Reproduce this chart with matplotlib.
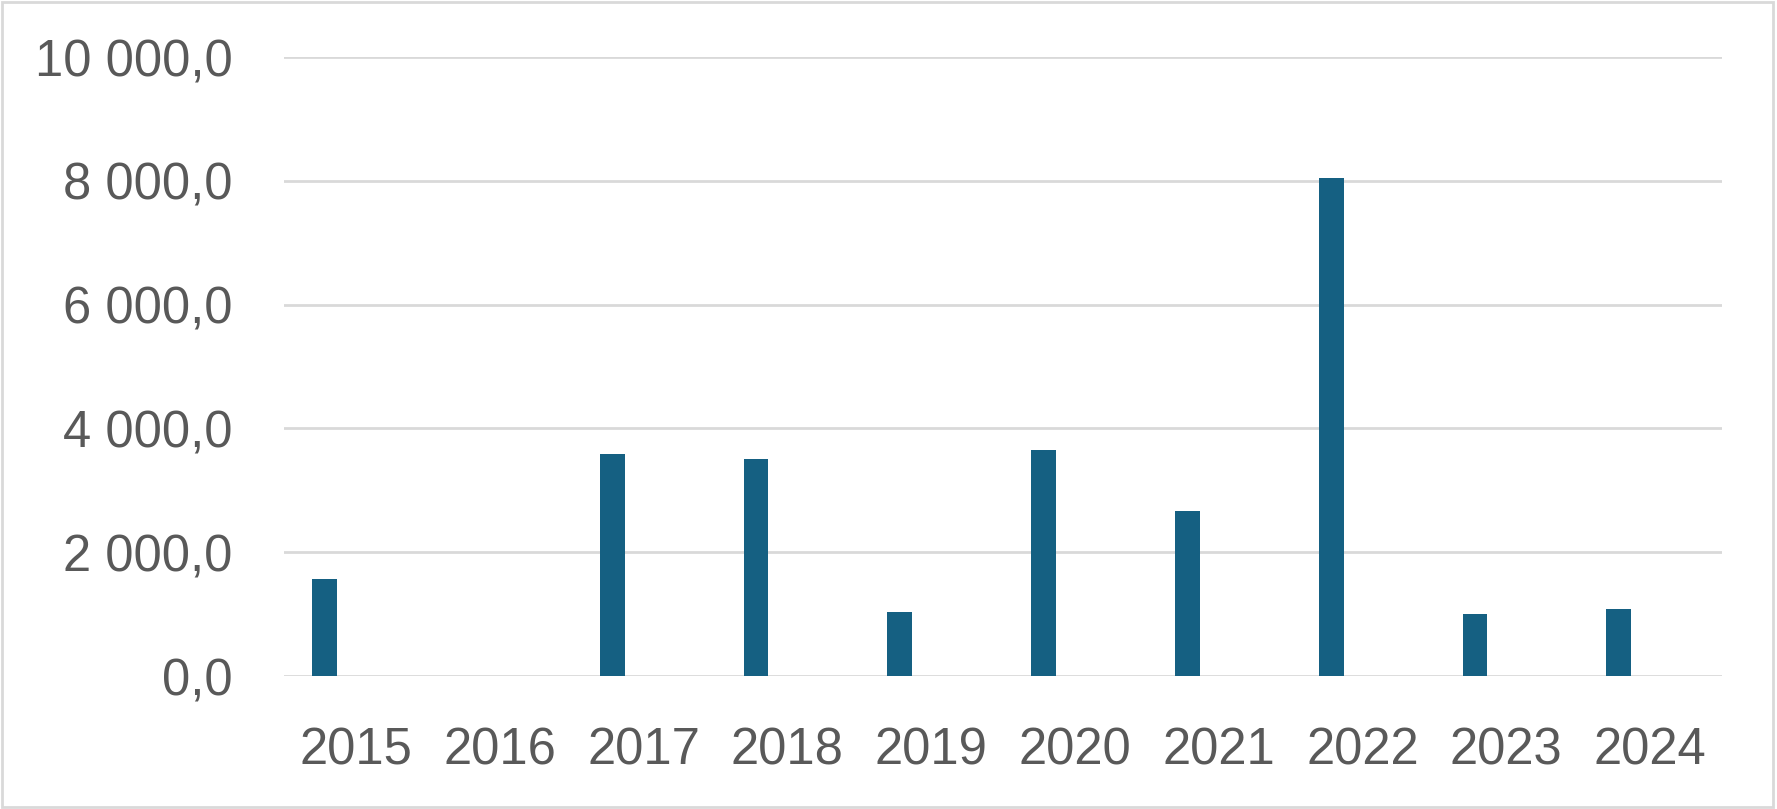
import matplotlib
matplotlib.use('Agg')
import matplotlib.pyplot as plt
from matplotlib.patches import Rectangle
from matplotlib.ticker import FuncFormatter, MultipleLocator
import numpy as np

# Données
annees  = ['2015', '2016', '2017', '2018', '2019', '2020', '2021', '2022', '2023', '2024']
valeurs = [1567, 0, 3586, 3500, 1034, 3651, 2666, 8040, 1002, 1077]

couleur_barre = '#156082'
couleur_texte = '#595959'
couleur_grille = '#d9d9d9'

plt.rcParams['font.family'] = ['Liberation Sans', 'DejaVu Sans']

fig = plt.figure(figsize=(17.77, 8.09), dpi=100)
ax = fig.add_axes([0.1598, 0.1644, 0.969 - 0.1598, 0.9295 - 0.1644])

x = np.arange(len(annees))
ax.bar(x - 0.217, valeurs, width=0.172, color=couleur_barre, zorder=3)

ax.set_xlim(-0.5, len(annees) - 0.5)
ax.set_ylim(0, 10000)
ax.yaxis.set_major_locator(MultipleLocator(2000))

def fmt(v, pos):
    return f"{v:,.1f}".replace(',', ' ').replace('.', ',')

ax.yaxis.set_major_formatter(FuncFormatter(fmt))
ax.set_xticks(x)
ax.set_xticklabels(annees)

ax.grid(axis='y', color=couleur_grille, linewidth=2, zorder=0)
for s in ax.spines.values():
    s.set_visible(False)
ax.tick_params(axis='both', length=0, labelsize=36.5, colors=couleur_texte)
ax.tick_params(axis='y', pad=37)
ax.tick_params(axis='x', pad=36)

# cadre du graphique
fig.patches.append(Rectangle((0.001, 0.002), 0.997, 0.995, transform=fig.transFigure,
                             fill=False, edgecolor=couleur_grille, linewidth=2))

plt.savefig('out.png', dpi=100)
plt.close()
